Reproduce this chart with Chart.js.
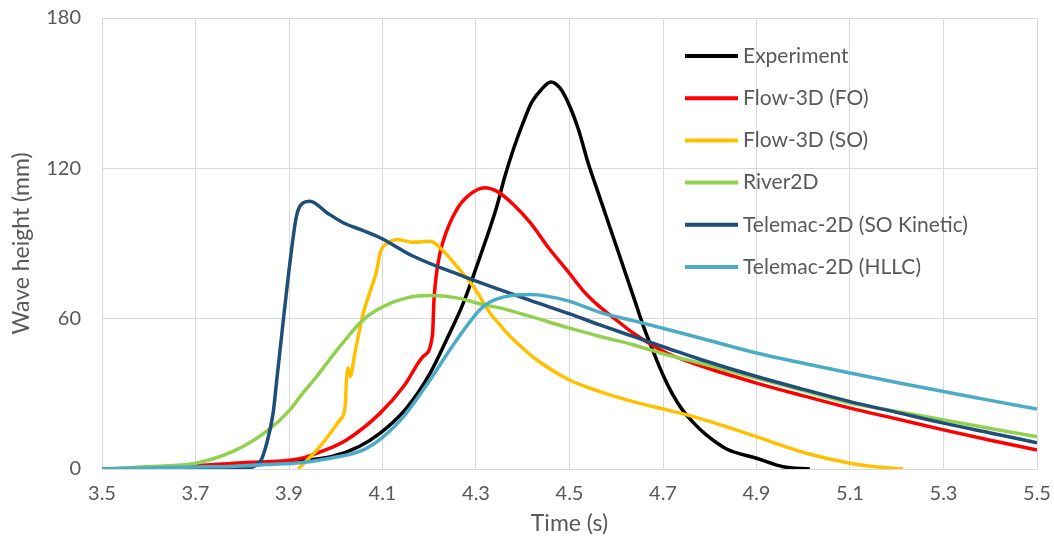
<!DOCTYPE html>
<html>
<head>
<meta charset="utf-8">
<script src="https://cdn.jsdelivr.net/npm/chart.js@4/dist/chart.umd.min.js"></script>
<style>
    html, body { margin: 0; padding: 0; background: #ffffff; }
    #wrap { width: 1054px; height: 544px; }
</style>
</head>
<body>
<div id="wrap"><canvas id="waveChart" width="1054" height="544"></canvas></div>
<script>
// Wave height at the gauge (time in s, height in mm)
const expTime = [3.5, 3.7, 3.8, 3.9, 3.99, 4.05, 4.095, 4.15, 4.202, 4.237, 4.273, 4.309, 4.344, 4.362, 4.38, 4.401, 4.419, 4.44, 4.46, 4.48, 4.5, 4.52, 4.54, 4.56, 4.58, 4.6, 4.62, 4.64, 4.66, 4.68, 4.7, 4.72, 4.74, 4.765, 4.79, 4.836, 4.9, 4.957, 5.014];
const expHeight = [0, 0.5, 1.2, 3, 4.9, 9, 14.3, 24, 38.3, 51.6, 66.3, 84.9, 104.5, 116.9, 127.6, 138.3, 146.3, 151.5, 154.5, 152, 145, 135, 122, 111, 100, 89, 78, 67, 56, 46.5, 37.5, 30, 24, 18.5, 14, 8, 4.3, 0.9, 0];

const foTime = [3.5, 3.65, 3.8, 3.92, 3.97, 4.023, 4.095, 4.145, 4.187, 4.207, 4.21, 4.219, 4.23, 4.259, 4.287, 4.319, 4.344, 4.38, 4.416, 4.458, 4.494, 4.53, 4.56, 4.6, 4.636, 4.708, 4.8, 4.9, 5.0, 5.1, 5.2, 5.3, 5.4, 5.5];
const foHeight = [0, 0.8, 2.5, 4, 7, 11.6, 22.3, 32.9, 44.9, 53.6, 67, 82.3, 91, 103.6, 109.6, 112.3, 110.9, 105.6, 98.3, 87.6, 79.5, 71, 65.5, 59.5, 54.3, 46.3, 40, 34.3, 29.2, 24.3, 20, 15.6, 11.5, 7.6];

const soTime = [3.92, 3.966, 4.009, 4.02, 4.023, 4.027, 4.031, 4.041, 4.059, 4.07, 4.088, 4.095, 4.113, 4.13, 4.165, 4.202, 4.223, 4.259, 4.294, 4.33, 4.351, 4.366, 4.408, 4.423, 4.499, 4.565, 4.636, 4.708, 4.765, 4.85, 4.9, 5.007, 5.1, 5.15, 5.214];
const soHeight = [0, 8.9, 19.6, 24.9, 35.6, 40.3, 36.9, 46.3, 62.3, 68.9, 79.6, 86.3, 90.3, 91.6, 90.5, 90.9, 88.3, 80.9, 72.9, 62.3, 57.6, 54.3, 46.9, 44.5, 35.6, 30.9, 26.9, 23.6, 20.9, 16, 12.9, 6.3, 2.3, 1, 0];

const riverTime = [3.5, 3.538, 3.6, 3.7, 3.78, 3.852, 3.902, 3.924, 3.959, 4.009, 4.059, 4.102, 4.152, 4.202, 4.259, 4.316, 4.351, 4.416, 4.499, 4.565, 4.636, 4.708, 4.779, 4.9, 5.0, 5.1, 5.2, 5.3, 5.4, 5.5];
const riverHeight = [0, 0.3, 1, 2.3, 7, 15, 23.6, 29, 36.9, 48.9, 59.6, 64.9, 68.3, 69.2, 68.3, 65.6, 64.3, 60.9, 56.3, 52.9, 49.6, 45.6, 42.3, 36.3, 31.3, 26.3, 23, 19.6, 16.2, 12.9];

const kinTime = [3.5, 3.7, 3.8, 3.838, 3.852, 3.866, 3.874, 3.888, 3.902, 3.916, 3.931, 3.945, 3.981, 4.016, 4.052, 4.095, 4.166, 4.273, 4.351, 4.416, 4.499, 4.565, 4.636, 4.708, 4.779, 4.9, 5.0, 5.1, 5.2, 5.3, 5.4, 5.5];
const kinHeight = [0, 0, 0.3, 2.9, 10, 22.3, 35.8, 59.6, 82.3, 100.9, 106.3, 106.9, 102.3, 98.3, 95.6, 92.3, 84.9, 76.9, 71.6, 67.3, 62, 57.5, 52.9, 48.3, 43.8, 36.9, 31.8, 26.9, 22.6, 18.3, 14.4, 10.5];

const hllcTime = [3.5, 3.7, 3.774, 3.85, 3.924, 3.988, 4.059, 4.102, 4.145, 4.202, 4.23, 4.259, 4.316, 4.366, 4.416, 4.45, 4.499, 4.565, 4.636, 4.708, 4.779, 4.9, 5.0, 5.1, 5.2, 5.3, 5.4, 5.5];
const hllcHeight = [0, 0.8, 1, 1.8, 2.5, 4.3, 7.6, 12.9, 20.9, 35.6, 43.6, 51.6, 64.9, 68.9, 69.6, 69, 67, 62.5, 59.2, 55.8, 52.3, 46.3, 42.2, 38.3, 34.5, 30.9, 27.4, 23.9];

const seriesNames = ['Experiment', 'Flow-3D (FO)', 'Flow-3D (SO)', 'River2D', 'Telemac-2D (SO Kinetic)', 'Telemac-2D (HLLC)'];
const seriesColors = ['#000000', '#FF0000', '#FFC000', '#92D050', '#1F4E79', '#4BACC6'];

function toPoints(ts, hs) {
    return ts.map((t, i) => ({ x: t, y: hs[i] }));
}

const allSeries = [
    toPoints(expTime, expHeight),
    toPoints(foTime, foHeight),
    toPoints(soTime, soHeight),
    toPoints(riverTime, riverHeight),
    toPoints(kinTime, kinHeight),
    toPoints(hllcTime, hllcHeight)
];

const textGrey = '#595959';
const gridGrey = '#D9D9D9';
const fontFamily = 'Lato, "Open Sans", sans-serif';

// legend sits inside the plot, top right (like the Excel one)
const insideLegend = {
    id: 'insideLegend',
    afterDatasetsDraw(chart, args, opts) {
        const ctx = chart.ctx;
        ctx.save();
        ctx.font = opts.font;
        ctx.textBaseline = 'middle';
        ctx.textAlign = 'left';
        chart.data.datasets.forEach((ds, i) => {
            const y = opts.top + i * opts.rowGap;
            ctx.strokeStyle = ds.borderColor;
            ctx.lineWidth = 4;
            ctx.beginPath();
            ctx.moveTo(opts.left, y);
            ctx.lineTo(opts.left + opts.lineLen, y);
            ctx.stroke();
            ctx.fillStyle = textGrey;
            ctx.fillText(ds.label, opts.left + opts.lineLen + 5, y);
        });
        ctx.restore();
    }
};

const ctx = document.getElementById('waveChart').getContext('2d');

const waveChart = new Chart(ctx, {
    type: 'line',
    data: {
        datasets: allSeries.map((pts, i) => ({
            label: seriesNames[i],
            data: pts,
            borderColor: seriesColors[i],
            backgroundColor: seriesColors[i],
            borderWidth: 3.5,
            pointRadius: 0,
            fill: false,
            cubicInterpolationMode: 'monotone',
            order: allSeries.length - 1 - i
        }))
    },
    options: {
        responsive: false,
        animation: false,
        layout: {
            padding: { top: 18, right: 17, bottom: 0, left: 0 }
        },
        plugins: {
            legend: { display: false },
            tooltip: { enabled: false },
            insideLegend: {
                left: 685,
                top: 56,
                rowGap: 42.2,
                lineLen: 53,
                font: '21px ' + fontFamily
            }
        },
        scales: {
            x: {
                type: 'linear',
                min: 3.5,
                max: 5.5,
                border: { color: gridGrey },
                grid: { color: gridGrey, drawTicks: false },
                ticks: {
                    stepSize: 0.2,
                    padding: 13,
                    color: textGrey,
                    font: { family: fontFamily, size: 20 },
                    maxRotation: 0,
                    callback: (v) => Number(v).toFixed(1)
                },
                title: {
                    display: true,
                    text: 'Time (s)',
                    color: textGrey,
                    font: { family: fontFamily, size: 23 },
                    padding: { top: 0, bottom: 7 }
                },
                afterFit(scale) {
                    scale.height = 75;
                    scale.paddingLeft = 0;
                    scale.paddingRight = 0;
                }
            },
            y: {
                min: 0,
                max: 180,
                border: { color: gridGrey },
                grid: { color: gridGrey, drawTicks: false },
                ticks: {
                    stepSize: 60,
                    padding: 21,
                    color: textGrey,
                    font: { family: fontFamily, size: 20 }
                },
                title: {
                    display: true,
                    text: 'Wave height (mm)',
                    color: textGrey,
                    font: { family: fontFamily, size: 23 },
                    padding: { top: 8, bottom: 0 }
                },
                afterFit(scale) {
                    scale.width = 102;
                    scale.paddingTop = 0;
                    scale.paddingBottom = 0;
                }
            }
        }
    },
    plugins: [insideLegend]
});
</script>
</body>
</html>
